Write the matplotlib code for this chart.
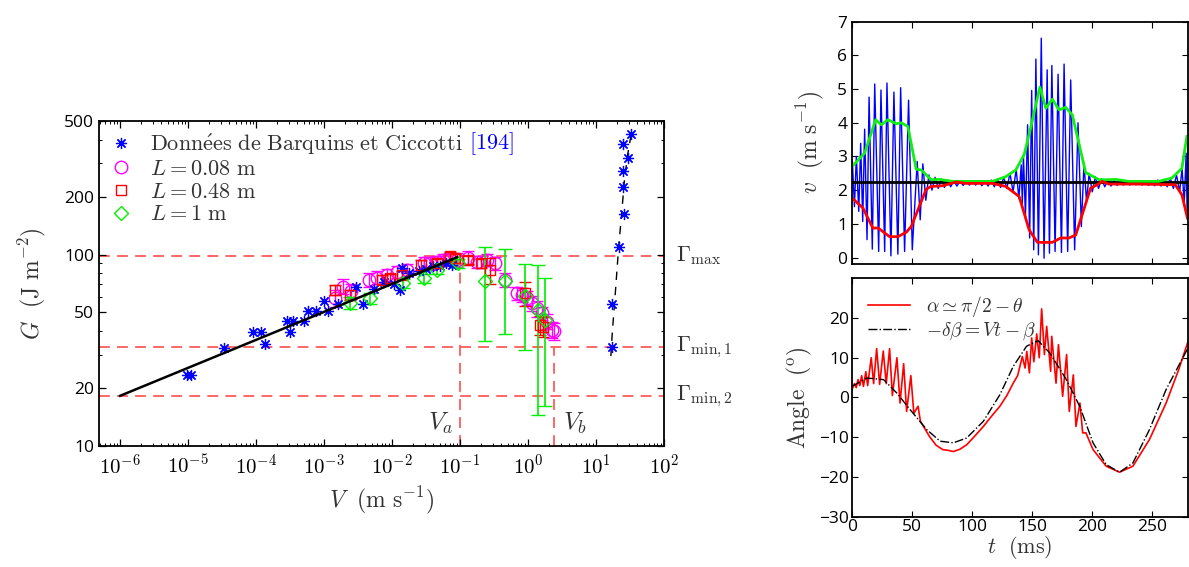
import numpy as np
import matplotlib.pyplot as plt
from matplotlib.lines import Line2D
from matplotlib.ticker import FixedLocator, FixedFormatter, LogLocator, NullFormatter

plt.rcParams["font.family"] = ["Open Sans", "DejaVu Sans"]
plt.rcParams["mathtext.fontset"] = "cm"

# ---------------- left panel: G(V) ----------------
# Barquins & Ciccotti data (slow branch + fast branch)
V_bc = [9.5e-6, 1.1e-5, 3.4e-5, 9.1e-5, 1.18e-4, 1.35e-4, 2.8e-4, 3.1e-4, 3.5e-4,
        5.1e-4, 5.8e-4, 7.5e-4, 1.0e-3, 1.15e-3, 1.6e-3, 2.9e-3, 3.7e-3, 5.5e-3,
        7.5e-3, 0.0105, 0.013, 0.0139, 0.018, 0.025, 0.032, 0.04, 0.05, 0.062, 0.075]
G_bc = [23.5, 23.5, 32.7, 39.6, 39.6, 34.3, 45, 39.6, 45,
        45, 50.9, 51, 57, 51, 55, 68, 55.5, 66,
        72, 70, 65.6, 85, 80, 82, 84, 87, 87, 90, 88]
V_bc_fast = [17.2, 17.2, 21.5, 25.7, 25.1, 25.0, 29.2, 24.7, 33.0]
G_bc_fast = [32.9, 55.2, 110, 163, 227, 273, 322, 380, 430]
V_fast_fit = [16.5, 17.4, 19.0, 21.5, 24.0, 26.0, 29.0, 33.0]
G_fast_fit = [29.5, 40, 60, 110, 170, 240, 330, 430]

# L = 0.08 m
V_m = [1.45e-3, 1.9e-3, 2.5e-3, 4.5e-3, 6e-3, 8.3e-3, 0.0117, 0.0165, 0.029, 0.036,
       0.046, 0.056, 0.071, 0.09, 0.13, 0.176, 0.25, 0.33, 0.46, 0.68, 0.81, 0.96,
       1.13, 1.34, 1.59, 1.88, 2.24, 2.37]
G_m = [59.5, 68.2, 64.4, 74, 76, 78.5, 81.6, 83.4, 90.2, 90.2,
       92, 94, 95, 94, 96, 92, 94, 90, 74, 63, 61.7, 59.4,
       55.8, 52.5, 49.5, 44.7, 40.5, 39.7]
E_m = [6, 6, 6, 6, 6, 6, 6, 6, 7, 7, 7, 7, 7, 8, 8, 7, 7, 7, 6, 5, 5, 5, 5, 5, 4, 4, 4, 4]

# L = 0.48 m
V_r = [1.45e-3, 2.4e-3, 7.1e-3, 9.4e-3, 0.0139, 0.027, 0.045, 0.071, 0.084, 0.13,
       0.2, 0.28, 0.9, 1.5, 1.67]
G_r = [65.6, 61.7, 74, 75.5, 78.5, 88.6, 90.2, 97.9, 96, 94,
       90.2, 83.4, 63, 43, 42.1]
E_r = [4, 4, 4, 4, 4, 5, 5, 5, 5, 5, 5, 13, 9, 5, 5]

# L = 1 m
V_g = [2.4e-3, 4.8e-3, 0.0147, 0.029, 0.045, 0.094, 0.23, 0.46, 0.9, 1.42, 1.78]
G_g = [55.8, 59.4, 71, 75.5, 83.4, 90.2, 72.5, 72.5, 60.6, 51.5, 45.7]
E_g = [4, 4, 4, 4, 4, 5, 37, 34, 29, 37, 29.5]

# power-law fit on the slow branch
V_fit = [1e-6, 0.09]
G_fit = [18.3, 97]

G_max, G_min1, G_min2 = 99, 33, 18.3
V_a, V_b = 0.1, 2.4

# ---------------- right panels ----------------
# raw velocity signal (t in ms, v in m/s), read peak by peak
blue_pts = [
    (0.3, 2.85), (2.0, 1.51), (3.6, 3.0), (5.6, 1.37), (7.2, 3.39), (8.9, 1.07),
    (10.5, 3.81), (12.5, 0.53), (14.2, 4.76), (16.9, 0.25), (18.9, 5.15), (22.2, 0.18),
    (24.1, 4.97), (27.2, 0.18), (29.1, 5.18), (32.4, 0.05), (34.9, 4.91), (38.2, 0.1),
    (40.5, 5.04), (43.8, 0.18), (47.1, 4.67), (50.2, 0.23), (54.3, 2.85), (56.8, 1.12),
    (59.0, 2.78), (61.5, 1.7),
    (64.0, 2.45), (66.6, 2.0), (69.2, 2.38), (71.8, 2.05), (74.4, 2.33), (77.0, 2.08),
    (79.6, 2.3), (82.2, 2.1), (84.8, 2.28), (87.4, 2.12), (90.0, 2.27), (92.6, 2.14),
    (95.2, 2.26), (97.8, 2.15), (100.4, 2.26), (103.0, 2.15), (105.6, 2.27), (108.2, 2.13),
    (110.8, 2.28), (113.4, 2.12), (116.0, 2.3), (118.6, 2.1), (121.2, 2.33), (123.8, 2.08),
    (126.4, 2.38), (129.0, 2.05), (131.6, 2.5), (134.2, 1.95), (136.8, 2.62), (139.0, 1.75),
    (141.0, 2.75), (141.9, 1.6),
    (142.8, 3.05), (144.5, 1.22), (146.3, 3.94), (148.0, 0.58), (149.7, 4.96), (151.4, 0.23),
    (153.2, 5.89), (155.3, 0.08), (157.7, 6.51), (160.0, -0.02), (162.6, 5.57), (164.5, 0.13),
    (166.5, 5.70), (169.2, 0.18), (171.7, 5.44), (174.5, 0.15), (176.7, 5.74), (179.7, 0.18),
    (182.2, 5.27), (185.5, 0.23), (188.3, 4.0), (191.1, 0.92), (193.3, 2.80), (195.4, 1.66),
    (197.6, 2.5), (200.2, 1.95), (202.8, 2.4), (205.4, 2.05), (208.0, 2.33), (210.6, 2.1),
    (213.2, 2.3), (215.8, 2.12), (218.4, 2.28), (221.0, 2.14), (223.6, 2.27), (226.2, 2.15),
    (228.8, 2.27), (231.4, 2.15), (234.0, 2.26), (236.6, 2.16), (239.2, 2.26), (241.8, 2.15),
    (244.4, 2.27), (247.0, 2.14), (249.6, 2.28), (252.2, 2.13), (254.8, 2.3), (257.4, 2.12),
    (260.0, 2.32), (262.6, 2.1), (265.2, 2.36), (267.8, 2.05), (270.4, 2.45), (273.0, 1.95),
    (275.0, 2.65), (276.8, 1.6), (278.4, 3.1), (279.3, 1.2), (280.0, 3.63),
]

t_env = [0.8, 10.5, 19.7, 24.4, 29.9, 36.9, 41.0, 46.5, 53.5, 57.6, 65.9, 72.8,
         83.9, 117, 128.2, 136.5, 143.4, 149, 156.5, 161.5, 166.9, 172.5, 178.0,
         183.6, 194.7, 205.7, 214, 219.6, 230.7, 255.6, 266.6, 274.9, 279]
v_up = [2.73, 3.10, 4.09, 3.94, 4.09, 3.97, 4.0, 3.89, 2.62, 2.6, 2.31, 2.32,
        2.26, 2.26, 2.40, 2.6, 3.05, 3.87, 5.06, 4.43, 4.70, 4.38, 4.46,
        4.23, 2.52, 2.31, 2.31, 2.32, 2.26, 2.26, 2.36, 2.65, 3.59]
t_low = [1.2, 9.1, 17.4, 21.6, 31.3, 38.2, 45.2, 49.3, 61.8, 65.9, 75.6, 86.7,
         95, 117, 128.2, 139.3, 147.6, 154.5, 166.9, 173.9, 180.8, 186.4, 198.8,
         204.3, 208.4, 214, 238.9, 269.4, 274.9, 279.5]
v_low = [1.73, 1.47, 0.87, 0.88, 0.62, 0.62, 0.75, 0.92, 2.03, 2.11, 2.13, 2.24,
         2.2, 2.2, 2.11, 1.81, 0.82, 0.45, 0.45, 0.58, 0.58, 0.67, 2.06,
         2.16, 2.26, 2.18, 2.18, 2.16, 1.86, 1.17]
V_mean = 2.255

# angles
t_beta = [0, 12.5, 26.3, 37.4, 48.5, 62.3, 73.4, 84.5, 95.5, 109.4, 123.2, 134.3,
          145.4, 155.1, 164.8, 178.6, 189.7, 200.8, 211.8, 222.9, 234, 247.8,
          261.7, 275.5, 280]
a_beta = [2.8, 4.9, 4.5, 1.1, -3.1, -8.1, -11.0, -11.4, -10.2, -6.0, 0.7, 7.8,
          12.9, 14.3, 11.2, 4.5, -2.2, -11.4, -16.9, -18.8, -16.5, -8.1,
          2.0, 9.9, 12.5]
t_alpha = [0, 2.0, 3.5, 5.0, 6.5, 8.0, 9.5, 11.5, 13.0, 16.0, 18.0, 20.5, 23.0,
           26.0, 28.5, 31.3, 33.6, 37.4, 40.0, 43.0, 45.5, 49.0, 51.5, 55.0, 57.0,
           60.0, 64.5, 70.0, 75.5, 80.0, 84.5, 90.0, 95.5, 102, 109.4, 116,
           123.2, 129, 134.3, 138, 141.9, 144.2, 145.6, 147.8, 149.7, 151.5,
           153.9, 156.0, 158.0, 160.3, 162.2, 165.5, 166.4, 170.0, 172.0, 175.5,
           178.8, 181.0, 184.4, 186.6, 189.9, 192.2, 194.9, 200.8, 211.8, 222.9,
           234, 247.8, 261.7, 272.2, 280]
a_alpha = [2.0, 3.5, 2.5, 4.5, 3.0, 5.5, 2.8, 6.5, 3.0, 10.0, 3.5, 12.3, 3.3,
           11.7, 3.5, 12.3, 0.5, 10.0, -1.4, 8.5, -3.5, 5.5, -4.0, -2.2, -6.0,
           -7.5, -9.8, -12.0, -13.1, -13.3, -13.6, -13.0, -11.9, -9.8, -7.3, -4.8,
           -2.2, 0.5, 3.6, 5.5, 10.3, 7.4, 11.6, 6.2, 15.0, 9.0, 16.0, 10.0, 22.3,
           10.8, 17.9, 6.6, 15.4, 3.6, 13.3, 0.3, 10.8, -3.5, 5.7, -7.3, -1.4,
           -8.9, -8.9, -13.1, -17.3, -18.8, -17.3, -10.6, -1.4, 7.0, 14.1]

# ---------------- figure ----------------
fig = plt.figure(figsize=(11.89, 5.67), dpi=100)
red_dash = "#ff5a5a"
tick_kw = dict(direction="in", top=True, right=True, labelsize=12.5)

ax = fig.add_axes([0.0833, 0.2134, 0.4752, 0.5732])
ax.set_xscale("log")
ax.set_yscale("log")
ax.set_xlim(10 ** -6.31, 1e2)
ax.set_ylim(10, 500)

for g in (G_max, G_min1, G_min2):
    ax.axhline(g, color=red_dash, lw=1.3, ls=(0, (6, 4)), zorder=1)
ax.plot([V_a, V_a], [10, 103], color=red_dash, lw=1.3, ls=(0, (6, 4)), zorder=1)
ax.plot([V_b, V_b], [10, G_min1], color=red_dash, lw=1.3, ls=(0, (6, 4)), zorder=1)

ax.plot(V_fit, G_fit, color="black", lw=1.8, zorder=5)
ax.plot(V_fast_fit, G_fast_fit, color="black", lw=1.0, ls=(0, (6, 5)), zorder=2)

ast = (8, 2, 0)
ax.errorbar(V_m, G_m, yerr=E_m, fmt="o", color="magenta", mfc="none", ms=9,
            mew=1.0, elinewidth=1.0, capsize=4, zorder=3)
ax.errorbar(V_r, G_r, yerr=E_r, fmt="s", color="red", mfc="none", ms=7,
            mew=1.0, elinewidth=1.0, capsize=4, zorder=4)
ax.errorbar(V_g, G_g, yerr=E_g, fmt="D", color="#00ee00", mfc="none", ms=7,
            mew=1.0, elinewidth=1.2, capsize=5, zorder=4)
ax.plot(V_bc, G_bc, ls="none", marker=ast, ms=8, mew=0.9, color="blue", zorder=4)
ax.plot(V_bc_fast, G_bc_fast, ls="none", marker=ast, ms=8, mew=0.9, color="blue", zorder=4)

decades = [1e-6, 1e-5, 1e-4, 1e-3, 1e-2, 1e-1, 1e0, 1e1, 1e2]
ax.xaxis.set_major_locator(FixedLocator(decades))
ax.xaxis.set_minor_locator(LogLocator(base=10, subs=np.arange(2, 10), numticks=20))
ax.xaxis.set_major_formatter(FixedFormatter(
    [r"$\mathsf{10^{%d}}$" % int(np.log10(d)) for d in decades]))
ax.xaxis.set_minor_formatter(NullFormatter())
yt = [10, 20, 50, 100, 200, 500]
ax.yaxis.set_major_locator(FixedLocator(yt))
ax.yaxis.set_major_formatter(FixedFormatter([str(v) for v in yt]))
ax.yaxis.set_minor_formatter(NullFormatter())
ax.tick_params(which="both", **tick_kw)
ax.tick_params(axis="x", labelsize=15)
ax.tick_params(which="major", length=5, width=0.9)
ax.tick_params(which="minor", length=2.5, width=0.7)
ax.tick_params(axis="x", pad=6)
for s in ax.spines.values():
    s.set_linewidth(1.3)

ax.set_xlabel(r"$V\ \ (\mathrm{m\ s^{-1}})$", fontsize=17, color="#333333")
ax.set_ylabel(r"$G\ \ (\mathrm{J\ m^{-2}})$", fontsize=17, color="#333333", labelpad=12)

handles = [
    Line2D([], [], ls="none", marker=ast, ms=8, mew=0.9, color="blue"),
    Line2D([], [], ls="none", marker="o", ms=9, mfc="none", color="magenta"),
    Line2D([], [], ls="none", marker="s", ms=7, mfc="none", color="red"),
    Line2D([], [], ls="none", marker="D", ms=7, mfc="none", color="#00ee00"),
]
labels = [r"$\mathrm{Donn\acute{e}es\ de\ Barquins\ et\ Ciccotti}$",
          r"$L = 0.08\ \mathrm{m}$", r"$L = 0.48\ \mathrm{m}$", r"$L = 1\ \mathrm{m}$"]
leg = ax.legend(handles, labels, loc="upper left", frameon=False, fontsize=16,
                handlelength=1.0, handletextpad=0.8, labelspacing=0.08,
                borderaxespad=0.1, numpoints=1)
for txt in leg.get_texts():
    txt.set_color("#333333")

trans = ax.get_yaxis_transform()
for g, lab in [(G_max, r"$\Gamma_{\max}$"), (G_min1, r"$\Gamma_{\min,1}$"),
               (G_min2, r"$\Gamma_{\min,2}$")]:
    ax.text(1.022, g, lab, transform=trans, fontsize=16, va="center", color="#333333")
ax.text(V_a * 0.8, 11.3, r"$V_a$", fontsize=18, ha="right", va="bottom", color="#333333")
ax.text(V_b * 1.35, 11.3, r"$V_b$", fontsize=18, ha="left", va="bottom", color="#333333")

# top right: velocity
t_blue, v_blue = zip(*blue_pts)
ax1 = fig.add_axes([0.7166, 0.5339, 0.2826, 0.4279])
ax1.plot(t_blue, v_blue, color="blue", lw=1.0)
ax1.axhline(V_mean, color="black", lw=2)
ax1.plot(t_env, v_up, color="#11ee11", lw=2)
ax1.plot(t_low, v_low, color="red", lw=2)
ax1.set_xlim(0, 280)
ax1.set_ylim(-0.2, 7)
ax1.set_xticks([0, 50, 100, 150, 200, 250])
ax1.set_yticks(range(0, 8))
ax1.tick_params(**tick_kw, labelbottom=False, length=4)
ax1.set_ylabel(r"$v\ \ (\mathrm{m\ s^{-1}})$", fontsize=17, color="#333333", labelpad=8)
for s in ax1.spines.values():
    s.set_linewidth(1.3)

# bottom right: angles
ax2 = fig.add_axes([0.7166, 0.0887, 0.2826, 0.4205])
ax2.plot(t_alpha, a_alpha, color="red", lw=1.2, label=r"$\alpha \simeq \pi/2 - \theta$")
ax2.plot(t_beta, a_beta, color="black", lw=1.0, ls="-.",
         label=r"$-\delta\beta = Vt - \beta$")
ax2.set_xlim(0, 280)
ax2.set_ylim(-30, 30)
ax2.set_xticks([0, 50, 100, 150, 200, 250])
ax2.set_yticks([-30, -20, -10, 0, 10, 20])
ax2.tick_params(**tick_kw, length=4, pad=2)
ax2.set_xlabel(r"$t\ \ (\mathrm{ms})$", fontsize=16, color="#333333", labelpad=-1)
ax2.set_ylabel(r"$\mathrm{Angle}\ \ (^{\mathrm{o}})$", fontsize=17, color="#333333", labelpad=4)
leg2 = ax2.legend(loc="upper left", frameon=False, fontsize=14, handlelength=2.2,
                  labelspacing=0.1, borderaxespad=0.4)
for txt in leg2.get_texts():
    txt.set_color("#333333")
for s in ax2.spines.values():
    s.set_linewidth(1.3)

# blue reference number right after the first legend entry
fig.canvas.draw()
bb = leg.get_texts()[0].get_window_extent()
fig.text((bb.x1 + 6) / fig.bbox.width, bb.y0 / fig.bbox.height, r"$[194]$",
         color="blue", fontsize=16, va="bottom", ha="left")

fig.savefig("out.png", dpi=100)
